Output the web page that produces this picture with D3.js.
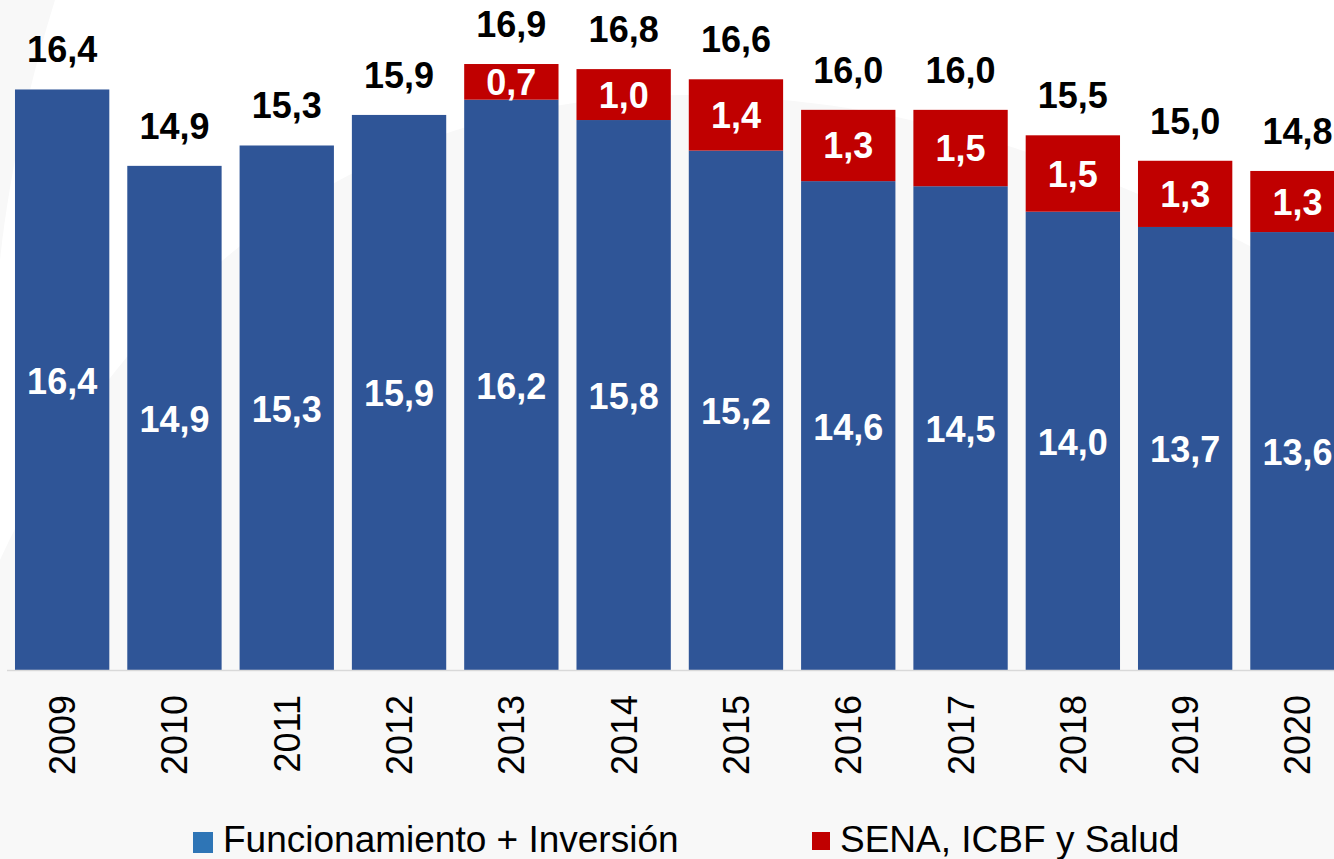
<!DOCTYPE html>
<html>
<head>
<meta charset="utf-8">
<script src="https://cdn.jsdelivr.net/npm/d3@7"></script>
<style>
  body { margin: 0; background: #f8f8f8; }
  svg { display: block; font-family: "Liberation Sans", Arial, sans-serif; }
</style>
</head>
<body>
<div id="chart"></div>
<script>
// data
var years = ["2009","2010","2011","2012","2013","2014","2015","2016","2017","2018","2019","2020"];
var funcInv = [16.4, 14.9, 15.3, 15.9, 16.2, 15.8, 15.2, 14.6, 14.5, 14.0, 13.7, 13.6];
var senaIcbf = [0, 0, 0, 0, 0.7, 1.0, 1.4, 1.3, 1.5, 1.5, 1.3, 1.3];
var totals = [16.4, 14.9, 15.3, 15.9, 16.9, 16.8, 16.6, 16.0, 16.0, 15.5, 15.0, 14.8];
var seriesNames = ["Funcionamiento + Inversión", "SENA, ICBF y Salud"];

var W = 1334, H = 859;
var fmt = function(v) { return d3.format(".1f")(v).replace(".", ","); };

var svg = d3.select("#chart")
  .append("svg")
    .attr("width", W)
    .attr("height", H);

// faint white swoosh in the background
svg.append("path")
  .attr("d", "M55,0 C30,80 10,170 0,260 L0,560 C120,300 350,90 700,95 C950,100 1150,190 1334,290 L1334,0 Z")
  .attr("fill", "#ffffff");

var x = d3.scaleBand()
  .domain(years)
  .range([6, 6 + 12 * 112.3])
  .paddingInner(0.16)
  .paddingOuter(0.08);

var y = d3.scaleLinear()
  .domain([5, 18])
  .range([670, 8]);

// blue bars
svg.selectAll(".blue")
  .data(years)
  .enter()
  .append("rect")
    .attr("class", "blue")
    .attr("x", function(d) { return x(d); })
    .attr("width", x.bandwidth())
    .attr("y", function(d, i) { return y(funcInv[i]); })
    .attr("height", function(d, i) { return y(5) - y(funcInv[i]); })
    .attr("fill", "#2F5597");

// red bars stacked on top
svg.selectAll(".red")
  .data(years.filter(function(d, i) { return senaIcbf[i] > 0; }))
  .enter()
  .append("rect")
    .attr("class", "red")
    .attr("x", function(d) { return x(d); })
    .attr("width", x.bandwidth())
    .attr("y", function(d) { var i = years.indexOf(d); return y(totals[i]); })
    .attr("height", function(d) { var i = years.indexOf(d); return y(funcInv[i]) - y(totals[i]); })
    .attr("fill", "#C00000");

// x axis line
svg.append("line")
  .attr("x1", 7).attr("x2", W)
  .attr("y1", 670.5).attr("y2", 670.5)
  .attr("stroke", "#d9d9d9")
  .attr("stroke-width", 1.5);

// year labels rotated
svg.selectAll(".year")
  .data(years)
  .enter()
  .append("text")
    .attr("class", "year")
    .attr("transform", function(d) {
      return "translate(" + (x(d) + x.bandwidth() / 2 + 13) + ",695)rotate(-90)";
    })
    .attr("text-anchor", "end")
    .style("font-size", "36px")
    .style("fill", "#000")
    .text(function(d) { return d; });

// total labels
svg.selectAll(".total")
  .data(years)
  .enter()
  .append("text")
    .attr("class", "total")
    .attr("x", function(d) { return x(d) + x.bandwidth() / 2; })
    .attr("y", function(d, i) { return y(totals[i]) - 27; })
    .attr("text-anchor", "middle")
    .style("font-size", "36px")
    .style("font-weight", "bold")
    .style("fill", "#000")
    .text(function(d, i) { return fmt(totals[i]); });

// blue segment labels
svg.selectAll(".blab")
  .data(years)
  .enter()
  .append("text")
    .attr("class", "blab")
    .attr("x", function(d) { return x(d) + x.bandwidth() / 2; })
    .attr("y", function(d, i) { return (y(funcInv[i]) + y(5)) / 2 + 14; })
    .attr("text-anchor", "middle")
    .style("font-size", "36px")
    .style("font-weight", "bold")
    .style("fill", "#fff")
    .text(function(d, i) { return fmt(funcInv[i]); });

// red segment labels
svg.selectAll(".rlab")
  .data(years.filter(function(d, i) { return senaIcbf[i] > 0; }))
  .enter()
  .append("text")
    .attr("class", "rlab")
    .attr("x", function(d) { return x(d) + x.bandwidth() / 2; })
    .attr("y", function(d) { var i = years.indexOf(d); return (y(totals[i]) + y(funcInv[i])) / 2 + 13; })
    .attr("text-anchor", "middle")
    .style("font-size", "36px")
    .style("font-weight", "bold")
    .style("fill", "#fff")
    .text(function(d) { return fmt(senaIcbf[years.indexOf(d)]); });

// legend
var legend = [
  {name: seriesNames[0], color: "#2E75B6", x: 193, w: 20, h: 21, tx: 30},
  {name: seriesNames[1], color: "#C00000", x: 812, w: 18, h: 18, tx: 28}
];
var lg = svg.selectAll(".legend")
  .data(legend)
  .enter()
  .append("g")
    .attr("transform", function(d) { return "translate(" + d.x + ",832)"; });
lg.append("rect")
  .attr("width", function(d) { return d.w; })
  .attr("height", function(d) { return d.h; })
  .attr("fill", function(d) { return d.color; });
lg.append("text")
  .attr("x", function(d) { return d.tx; })
  .attr("y", 20)
  .style("font-size", "37px")
  .style("fill", "#000")
  .text(function(d) { return d.name; });
</script>
</body>
</html>
